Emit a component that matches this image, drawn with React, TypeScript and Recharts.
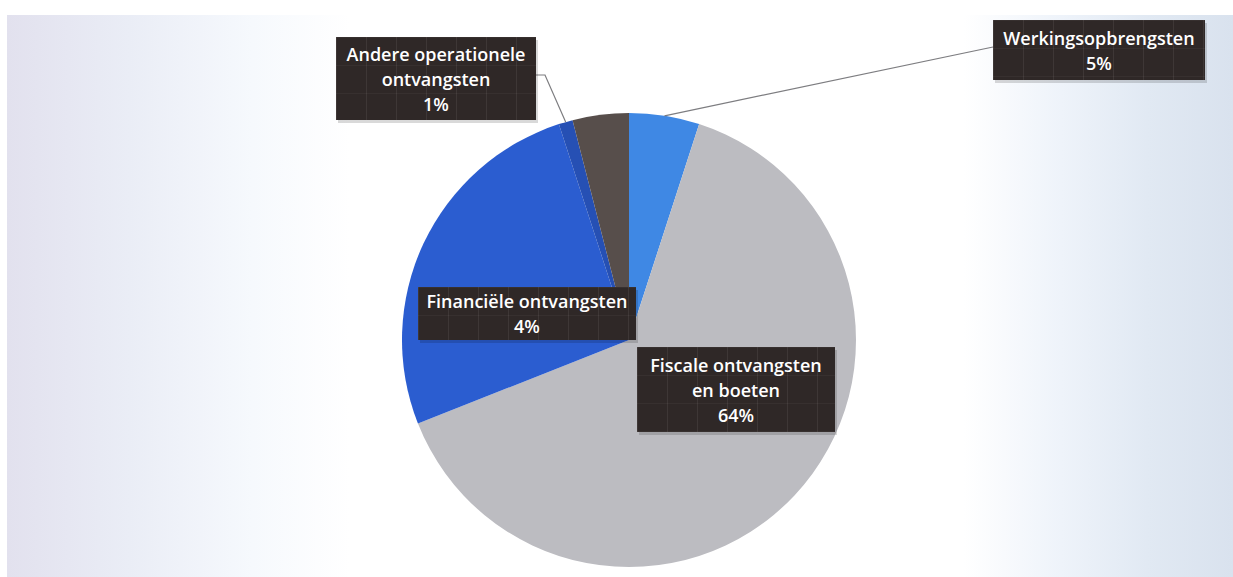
import React from 'react';
import { PieChart, Pie, Cell } from 'recharts';

// ---- data ----
const categories = [
  'Werkingsopbrengsten',
  'Fiscale ontvangsten en boeten',
  'Overige ontvangsten',
  'Andere operationele ontvangsten',
  'Financiële ontvangsten',
];
const shares = [5, 64, 26, 1, 4];
// label text lines shown on the chart (null = no label shown)
const labelTextLines: (string[] | null)[] = [
  ['Werkingsopbrengsten'],
  ['Fiscale ontvangsten', 'en boeten'],
  null,
  ['Andere operationele', 'ontvangsten'],
  ['Financiële ontvangsten'],
];

// ---- styles / layout ----
const sliceColors = ['#3f88e4', '#bcbcc1', '#2b5dd0', '#2650b4', '#574e4b'];

type BoxLayout = { dx: number; dy: number; w: number; h: number; leader?: 'left' | 'right'; leaderY?: number };
const labelBoxes: (BoxLayout | null)[] = [
  { dx: 364, dy: -320, w: 212, h: 60, leader: 'left', leaderY: 27 },
  { dx: 8, dy: 7, w: 198, h: 85 },
  null,
  { dx: -293, dy: -303, w: 200, h: 83, leader: 'right', leaderY: 38 },
  { dx: -211, dy: -53, w: 218, h: 53 },
];

const data = categories.map((name, i) => ({ name, value: shares[i] }));

const RAD = Math.PI / 180;

const renderLabel = (props: any) => {
  const { cx, cy, midAngle, outerRadius, index } = props;
  const box = labelBoxes[index];
  const textLines = labelTextLines[index];
  if (!box || !textLines) return null;
  const lines = [...textLines, `${shares[index]}%`];
  const x = cx + box.dx;
  const y = cy + box.dy;
  const ex = cx + outerRadius * Math.cos(-midAngle * RAD);
  const ey = cy + outerRadius * Math.sin(-midAngle * RAD);
  let leader: React.ReactNode = null;
  if (box.leader === 'right') {
    const sx = x + box.w;
    const sy = y + (box.leaderY || 0);
    leader = (
      <polyline points={`${sx},${sy} ${sx + 9},${sy} ${ex},${ey}`} fill="none" stroke="#7d7d80" strokeWidth={1.2} />
    );
  } else if (box.leader === 'left') {
    const sx = x;
    const sy = y + (box.leaderY || 0);
    leader = <polyline points={`${sx},${sy} ${ex},${ey}`} fill="none" stroke="#7d7d80" strokeWidth={1.2} />;
  }
  const lineH = 25;
  const tx = x + box.w / 2;
  const firstY = y + box.h / 2 - ((lines.length - 1) * lineH) / 2;
  const pid = `tex-${index}`;
  return (
    <g key={`lbl-${index}`}>
      <defs>
        <pattern id={pid} x={x} y={y} width={30} height={28} patternUnits="userSpaceOnUse">
          <rect width={30} height={28} fill="#2f2827" />
          <line x1={0.5} y1={0} x2={0.5} y2={28} stroke="rgba(255,255,255,0.07)" strokeWidth={1} />
          <line x1={0} y1={0.5} x2={30} y2={0.5} stroke="rgba(255,255,255,0.04)" strokeWidth={1} />
        </pattern>
      </defs>
      {leader}
      <rect x={x + 2} y={y + 3} width={box.w} height={box.h} fill="rgba(0,0,0,0.15)" />
      <rect x={x} y={y} width={box.w} height={box.h} fill={`url(#${pid})`} />
      {lines.map((t, i) => (
        <text
          key={i}
          x={tx}
          y={firstY + i * lineH}
          textAnchor="middle"
          dominantBaseline="central"
          fill="#ffffff"
          fontFamily="'Open Sans', sans-serif"
          fontSize={18}
          fontWeight={600}
        >
          {t}
        </text>
      ))}
    </g>
  );
};

export default function App() {
  return (
    <div style={{ position: 'absolute', left: 0, top: 0, width: 1233, height: 577, background: '#ffffff', overflow: 'hidden' }}>
      <div
        style={{
          position: 'absolute',
          left: 7,
          top: 15,
          right: 0,
          bottom: 0,
          background:
            'linear-gradient(to right, #e2e1ee 0%, #eaedf6 10%, #f6f9fd 20%, #ffffff 28%, #ffffff 78%, #eef3fa 86%, #e1e9f3 93%, #d9e2ee 100%)',
        }}
      />
      <div style={{ position: 'absolute', left: 0, top: 0 }}>
        <PieChart width={1233} height={577} margin={{ top: 0, right: 0, bottom: 0, left: 0 }}>
          <Pie
            data={data}
            dataKey="value"
            nameKey="name"
            cx={629}
            cy={340}
            outerRadius={227}
            startAngle={90}
            endAngle={-270}
            stroke="none"
            isAnimationActive={false}
            labelLine={false}
            label={renderLabel}
          >
            {data.map((d, i) => (
              <Cell key={d.name} fill={sliceColors[i]} stroke="none" />
            ))}
          </Pie>
        </PieChart>
      </div>
    </div>
  );
}
